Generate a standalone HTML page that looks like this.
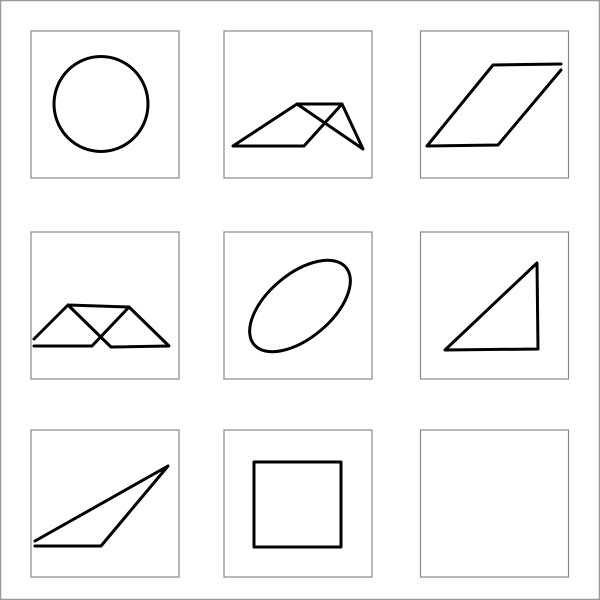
<!DOCTYPE html>
<html><head><meta charset="utf-8"><style>html,body{margin:0;padding:0;background:#fff}svg{display:block}</style></head>
<body>
<svg width="600" height="600" viewBox="0 0 600 600">
<rect x="0.5" y="0.5" width="599" height="599" fill="#fff" stroke="#999" stroke-width="1.5"/>
<g fill="none" stroke="#888" stroke-width="1.2">
<rect x="31" y="31" width="148" height="147"/>
<rect x="224" y="31" width="148" height="147"/>
<rect x="420.5" y="31" width="148" height="147"/>
<rect x="31" y="232" width="148" height="147"/>
<rect x="224" y="232" width="148" height="147"/>
<rect x="420.5" y="232" width="148" height="147"/>
<rect x="31" y="430" width="148" height="147"/>
<rect x="224" y="430" width="148" height="147"/>
<rect x="420.5" y="430" width="148" height="147"/>
</g>
<g fill="none" stroke="#000" stroke-width="3" stroke-linejoin="round" stroke-linecap="round">
<ellipse cx="101" cy="104" rx="47" ry="47.5"/>
<path d="M233,146 L297,104 L342,104 L304,146 Z M297,104 L363,149 L342,104"/>
<path d="M427,146 L493,65 L561,64 M561,70 L498,145 L427,146"/>
<path d="M34,339 L68,305 L129,307 L169,346 L111,347 L68,305 M129,307 L92,346 L34,346"/>
<ellipse cx="300" cy="306" rx="60" ry="32" transform="rotate(-40 300 306)"/>
<path d="M445,350 L537,263 L538,349 Z"/>
<path d="M35,541 L168,466 L101,546 L35,546"/>
<rect x="254" y="462" width="87" height="85"/>
</g>
</svg>
</body></html>
